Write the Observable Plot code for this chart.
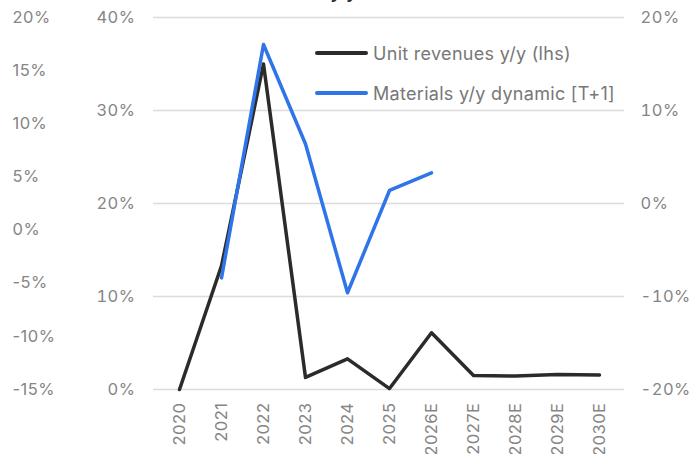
<!DOCTYPE html>
<html><head><meta charset="utf-8">
<script src="https://cdn.jsdelivr.net/npm/d3@7"></script>
<script src="https://cdn.jsdelivr.net/npm/@observablehq/plot@0.6"></script>
<style>
body{margin:0;background:#fff;font-family:Inter,"Noto Sans",sans-serif;}
#wrap{position:relative;width:690px;height:454px;overflow:hidden;}
#title{position:absolute;left:100px;top:-18px;font-size:17px;font-weight:700;color:#333;white-space:nowrap;line-height:20px;}
#legend{position:absolute;left:315px;top:33px;font-size:18px;color:#777;letter-spacing:0.3px;}
.item{display:flex;align-items:center;height:40px;}
.sw{width:53px;height:4px;border-radius:2px;margin-right:5px;}
</style></head><body>
<div id="wrap"><div id="title">Unit revenues vs materials [y/y]</div></div>
<script>
const years = ["2020","2021","2022","2023","2024","2025","2026E","2027E","2028E","2029E","2030E"];
const unitRevenues = [0.0, 13.3, 35.0, 1.3, 3.3, 0.1, 6.1, 1.5, 1.45, 1.6, 1.55];
const materials = [null, -8.0, 17.1, 6.4, -9.6, 1.4, 3.3, null, null, null, null];
const lhsTicks = [0, 10, 20, 30, 40];
const rhsTicks = [-20, -10, 0, 10, 20];
const farTicks = [20, 15, 10, 5, 0, -5, -10, -15];
const seriesNames = ["Unit revenues y/y (lhs)", "Materials y/y dynamic [T+1]"];
const colors = ["#2b2b2b", "#2f74e8"];

const rows = years.map((y, i) => ({year: y, rev: unitRevenues[i], mat: materials[i]}));
const rhsToLhs = v => v == null ? NaN : v + 20;
const farToLhs = v => (v + 15) * 40 / 35;
const gray = "#858585";

const chart = Plot.plot({
  width: 690, height: 454,
  marginLeft: 153, marginRight: 66, marginTop: 17, marginBottom: 65,
  style: {fontFamily: "Inter, 'Noto Sans', sans-serif", fontSize: "16.5px", color: gray, background: "#fff", letterSpacing: "0.5px"},
  x: {type: "band", domain: years, padding: 0},
  y: {domain: [0, 40]},
  marks: [
    Plot.gridY(lhsTicks, {stroke: "#dcdcdc", strokeOpacity: 1, strokeWidth: 1.5}),
    Plot.axisY(lhsTicks, {anchor: "left", label: null, tickSize: 0, tickPadding: 18, tickFormat: d => d + "%", fill: gray, fontSize: 16.5}),
    Plot.axisY(rhsTicks.map(rhsToLhs), {anchor: "right", label: null, tickSize: 0, tickPadding: 16, tickFormat: d => (d - 20) + "%", fill: gray, fontSize: 16.5}),
    Plot.text(farTicks, {y: farToLhs, text: d => d + "%", frameAnchor: "left", textAnchor: "start", dx: -141, fill: gray, fontSize: 16.5}),
    Plot.axisX({tickSize: 0, tickPadding: 13, tickRotate: -90, fill: gray, fontSize: 16.5, label: null}),
    Plot.line(rows, {x: "year", y: "rev", stroke: colors[0], strokeWidth: 3.5}),
    Plot.line(rows.filter(d => d.mat != null), {x: "year", y: d => rhsToLhs(d.mat), stroke: colors[1], strokeWidth: 3.5})
  ]
});
const wrap = document.getElementById("wrap");
wrap.insertBefore(chart, wrap.firstChild);
const leg = document.createElement("div");
leg.id = "legend";
seriesNames.forEach((n, i) => {
  const it = document.createElement("div"); it.className = "item";
  const sw = document.createElement("div"); sw.className = "sw"; sw.style.background = colors[i];
  const t = document.createElement("span"); t.textContent = n;
  it.appendChild(sw); it.appendChild(t); leg.appendChild(it);
});
wrap.appendChild(leg);
</script>
</body></html>
